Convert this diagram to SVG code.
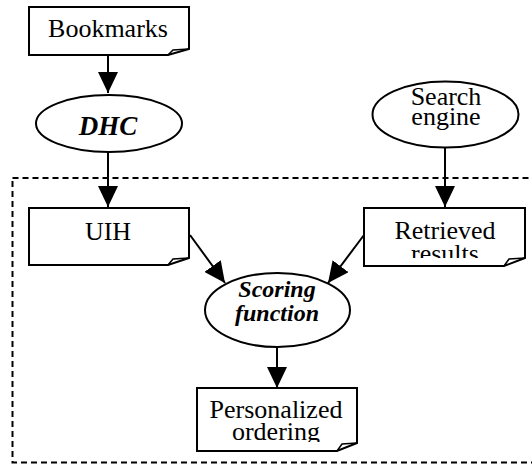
<svg xmlns="http://www.w3.org/2000/svg" width="532" height="466" viewBox="0 0 532 466">
<style>
.s{fill:#fff;stroke:#000;stroke-width:2}
.f{fill:none;stroke:#000;stroke-width:1.5}
.t{font-family:'Liberation Serif','Times New Roman',serif;font-size:26px;fill:#000;text-anchor:middle}
.b{font-weight:bold;font-style:italic}
.e{fill:none;stroke:#000;stroke-width:2}
</style>
<defs>
<marker id="a" viewBox="0 0 21 20" refX="21" refY="10" markerWidth="21" markerHeight="20" orient="auto" markerUnits="userSpaceOnUse">
<path d="M0,0 L21,10 L0,20 Z" fill="#000"/>
</marker>
<clipPath id="c1"><rect x="364" y="208" width="161" height="50"/></clipPath>
<clipPath id="c2"><rect x="197" y="388" width="160" height="54"/></clipPath>
</defs>
<rect x="12.5" y="178" width="540" height="284.5" fill="none" stroke="#000" stroke-width="2" stroke-dasharray="6,4"/>
<g id="connectors">
<line class="e" x1="108" y1="55" x2="108" y2="93" marker-end="url(#a)"/>
<line class="e" x1="108" y1="152" x2="108" y2="207" marker-end="url(#a)"/>
<line class="e" x1="445" y1="147" x2="445" y2="207" marker-end="url(#a)"/>
<line class="e" x1="190" y1="235" x2="225" y2="283" marker-end="url(#a)"/>
<line class="e" x1="364" y1="235" x2="328" y2="283" marker-end="url(#a)"/>
<line class="e" x1="277" y1="347" x2="277" y2="388" marker-end="url(#a)"/>
</g>
<g id="bookmarks">
<path class="s" d="M29,7 H189 V49 L168,55 H29 Z"/>
<path class="f" d="M168,55 L173,50 L189,49"/>
<text class="t" x="108" y="37">Bookmarks</text>
</g>
<g id="dhc">
<ellipse class="s" cx="109" cy="123.5" rx="73" ry="28.5"/>
<text class="t b" x="108" y="135" style="font-size:27px">DHC</text>
</g>
<g id="search-engine">
<ellipse class="s" cx="445.5" cy="114.5" rx="73" ry="33"/>
<text class="t" x="446" y="105">Search</text>
<text class="t" x="446" y="125">engine</text>
</g>
<g id="uih">
<path class="s" d="M29,208 H189 V258 L168,265 H29 Z"/>
<path class="f" d="M168,265 L173,259 L189,258"/>
<text class="t" x="108" y="240">UIH</text>
</g>
<g id="retrieved-results">
<path class="s" d="M364,208 H525 V258 L504,266 H364 Z"/>
<path class="f" d="M504,266 L509,259 L525,258"/>
<g clip-path="url(#c1)">
<text class="t" x="445" y="239">Retrieved</text>
<text class="t" x="445" y="262">results</text>
</g>
</g>
<g id="scoring-function">
<ellipse class="s" cx="277.5" cy="310" rx="72.5" ry="37"/>
<text class="t b" x="277" y="297" style="font-size:24px">Scoring</text>
<text class="t b" x="277" y="321" style="font-size:24px">function</text>
</g>
<g id="personalized-ordering">
<path class="s" d="M197,388 H357 V443 L337,451 H197 Z"/>
<path class="f" d="M337,451 L342,444 L357,443"/>
<g clip-path="url(#c2)">
<text class="t" x="276" y="418">Personalized</text>
<text class="t" x="276" y="440">ordering</text>
</g>
</g>
</svg>
